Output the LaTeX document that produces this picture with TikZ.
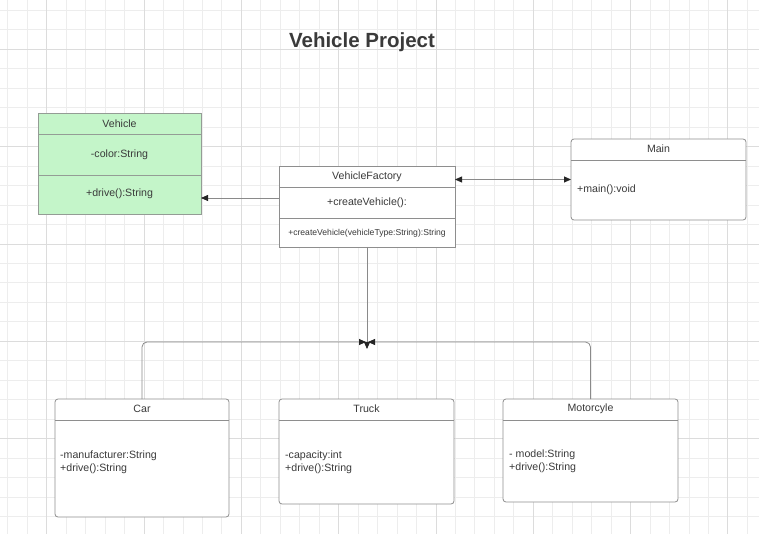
\documentclass[tikz,border=0pt]{standalone}
\usepackage{fontspec}
\setmainfont{Liberation Sans}
\usetikzlibrary{arrows.meta}

\definecolor{gridminor}{HTML}{EDEDED}
\definecolor{gridmajor}{HTML}{DCDCDC}
\definecolor{boxline}{HTML}{8E8E8E}
\definecolor{linkline}{HTML}{8A8A8A}
\definecolor{tipcol}{HTML}{262626}
\definecolor{txt}{HTML}{3A3A3A}
\definecolor{vehfill}{HTML}{C4F5C9}
\definecolor{vehline}{HTML}{949C95}

\tikzset{
  classbox/.style={draw=boxline, fill=white, line width=0.8pt, inner sep=0pt, outer sep=0pt},
  roundbox/.style={classbox, rounded corners=3pt},
  divider/.style={draw=boxline, line width=0.8pt},
  label/.style={text=txt, inner sep=0pt, font=\fontsize{10.6}{13}\selectfont},
  members/.style={label, align=left, anchor=west},
  link/.style={draw=linkline, line width=0.8pt, -{Triangle[length=7pt,width=6pt,color=tipcol]}},
  twoway/.style={draw=linkline, line width=0.8pt, {Triangle[length=7pt,width=6pt,color=tipcol]}-{Triangle[length=7pt,width=6pt,color=tipcol]}}
}

\begin{document}
\begin{tikzpicture}[x=1pt, y=-1pt]
  \useasboundingbox (0,0) rectangle (759,534);
  \fill[white] (0,0) rectangle (759,534);

  % Grid
  \foreach \i in {0,...,38}
    \draw[gridminor, line width=0.8pt] (7.8+\i*19.46,0) -- (7.8+\i*19.46,534);
  \foreach \j in {0,...,27}
    \draw[gridminor, line width=0.8pt] (0,10.4+\j*19.46) -- (759,10.4+\j*19.46);
  \foreach \i in {2,7,...,37}
    \draw[gridmajor, line width=0.8pt] (7.8+\i*19.46,0) -- (7.8+\i*19.46,534);
  \foreach \j in {2,7,...,27}
    \draw[gridmajor, line width=0.8pt] (0,10.4+\j*19.46) -- (759,10.4+\j*19.46);

  % Title
  \node[text=txt, font=\fontsize{20.5}{24}\bfseries] (title) at (362,42) {Vehicle Project};

  % Vehicle
  \node[classbox, draw=vehline, fill=vehfill, minimum width=163pt, minimum height=101pt] (vehicle) at (119.5,163.5) {};
  \draw[divider, vehline] ([yshift=-21pt]vehicle.north west) -- ([yshift=-21pt]vehicle.north east);
  \draw[divider, vehline] ([yshift=-62pt]vehicle.north west) -- ([yshift=-62pt]vehicle.north east);
  \node[label] (vehicle-name) at (119.5,123.5) {Vehicle};
  \node[label] (vehicle-attr) at (119.5,154.5) {-color:String};
  \node[label] (vehicle-op) at (119.5,194) {+drive():String};

  % VehicleFactory
  \node[classbox, minimum width=176pt, minimum height=81pt] (factory) at (367,206.5) {};
  \draw[divider] ([yshift=-21pt]factory.north west) -- ([yshift=-21pt]factory.north east);
  \draw[divider] ([yshift=-52pt]factory.north west) -- ([yshift=-52pt]factory.north east);
  \node[label] (factory-name) at (367,176.5) {VehicleFactory};
  \node[label] (factory-op) at (367,203) {+createVehicle():};
  \node[label, font=\fontsize{8.6}{10}\selectfont] (factory-op2) at (367,233) {+createVehicle(vehicleType:String):String};

  % Main
  \node[roundbox, minimum width=175pt, minimum height=81pt] (mainbox) at (658.5,179.5) {};
  \draw[divider] ([yshift=-21pt]mainbox.north west) -- ([yshift=-21pt]mainbox.north east);
  \node[label] (main-name) at (658.5,149) {Main};
  \node[members] (main-op) at (577,190) {+main():void};

  % Car
  \node[roundbox, minimum width=174pt, minimum height=118pt] (car) at (142,458) {};
  \draw[divider] ([yshift=-21pt]car.north west) -- ([yshift=-21pt]car.north east);
  \node[label] (car-name) at (142,409) {Car};
  \node[members] (car-body) at (60,462) {-manufacturer:String\\+drive():String};

  % Truck
  \node[roundbox, minimum width=175pt, minimum height=105pt] (truck) at (366.5,451.5) {};
  \draw[divider] ([yshift=-21pt]truck.north west) -- ([yshift=-21pt]truck.north east);
  \node[label] (truck-name) at (366.5,409) {Truck};
  \node[members] (truck-body) at (285,462) {-capacity:int\\+drive():String};

  % Motorcycle
  \node[roundbox, minimum width=175pt, minimum height=103pt] (moto) at (590.5,450.5) {};
  \draw[divider] ([yshift=-21pt]moto.north west) -- ([yshift=-21pt]moto.north east);
  \node[label] (moto-name) at (590.5,409) {Motorcyle};
  \node[members] (moto-body) at (509,461) {- model:String\\+drive():String};

  % Links
  \coordinate (hub) at (367,342);
  \draw[link] ([yshift=8.5pt]factory.west) -- ([yshift=8.5pt]factory.west -| vehicle.east);
  \draw[twoway] (factory.east |- mainbox.west) -- (mainbox.west);
  \draw[link] (factory.south) -- ([yshift=-7pt]hub);
  \draw[link, rounded corners=5pt] (car.north) |- ([xshift=-1pt]hub);
  \draw[link, rounded corners=5pt] (moto.north) |- ([xshift=1pt]hub);
\end{tikzpicture}
\end{document}
